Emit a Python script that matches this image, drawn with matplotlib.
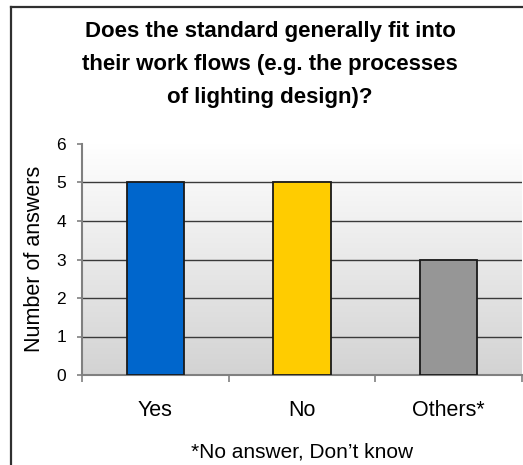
import numpy as np
import matplotlib
matplotlib.use("Agg")
import matplotlib.pyplot as plt
from matplotlib.lines import Line2D
from matplotlib.colors import LinearSegmentedColormap

plt.rcParams['font.family'] = ['Liberation Sans', 'DejaVu Sans']

# Survey data
categories = ["Yes", "No", "Others*"]
answers = [5, 5, 3]
bar_colors = ["#0066CC", "#FFCC00", "#969696"]
y_ticks = [0, 1, 2, 3, 4, 5, 6]
title_lines = ["Does the standard generally fit into",
               "their work flows (e.g. the processes",
               "of lighting design)?"]
footnote = "*No answer, Don\u2019t know"
y_label = "Number of answers"

W, H = 523, 465
fig = plt.figure(figsize=(W / 100, H / 100), dpi=100)
fig.patch.set_facecolor("white")

# outer frame (left and top edges visible)
fig.add_artist(Line2D([11 / W, 11 / W], [0, 1 - 7 / H], transform=fig.transFigure,
                      color="#303030", lw=1.6))
fig.add_artist(Line2D([11 / W, 1], [1 - 7 / H, 1 - 7 / H], transform=fig.transFigure,
                      color="#303030", lw=1.6))

ax = fig.add_axes([82 / W, 90 / H, 440 / W, 231 / H])
x = np.arange(len(categories))
ax.set_xlim(-0.5, len(categories) - 0.5)
ax.set_ylim(0, 6)

# vertical gradient background of the plot area
grad = np.linspace(0, 1, 256).reshape(-1, 1)
cmap = LinearSegmentedColormap.from_list("bg", ["#D3D3D3", "#FFFFFF"])
ax.imshow(grad, aspect="auto", cmap=cmap, origin="lower",
          extent=(-0.5, len(categories) - 0.5, 0, 6), zorder=0)

for yv in y_ticks[1:-1]:
    ax.axhline(yv, color="#3a3a3a", lw=1.0, zorder=1)

ax.bar(x, answers, width=0.39, color=bar_colors, edgecolor="#1a1a1a",
       linewidth=1.3, zorder=3)

for s in ["top", "right"]:
    ax.spines[s].set_visible(False)
for s in ["left", "bottom"]:
    ax.spines[s].set_color("#808080")
    ax.spines[s].set_linewidth(1.5)

ax.set_yticks(y_ticks)
ax.set_yticklabels([str(v) for v in y_ticks], fontsize=12.5)
ax.set_xticks(np.arange(len(categories) + 1) - 0.5, minor=False)
ax.set_xticklabels([])
ax.set_xticks(x, minor=True)
ax.set_xticklabels(categories, minor=True, fontsize=15.5)
ax.tick_params(axis="x", which="minor", length=0, pad=18)
ax.tick_params(axis="x", which="major", length=5, color="#808080", width=1.2, direction="out")
ax.tick_params(axis="y", length=3.5, color="#808080", width=1.2, pad=8)

fig.text(35 / W, 1 - 259 / H, y_label, rotation=90, ha="center", va="center",
         fontsize=15.5)

baselines = [37, 70, 103]
for line, b in zip(title_lines, baselines):
    fig.text(270 / W, 1 - b / H, line, ha="center", va="baseline",
             fontsize=16, fontweight="bold")

fig.text(302 / W, 1 - 457 / H, footnote, ha="center", va="baseline", fontsize=15)

fig.savefig("out.png", dpi=100)
